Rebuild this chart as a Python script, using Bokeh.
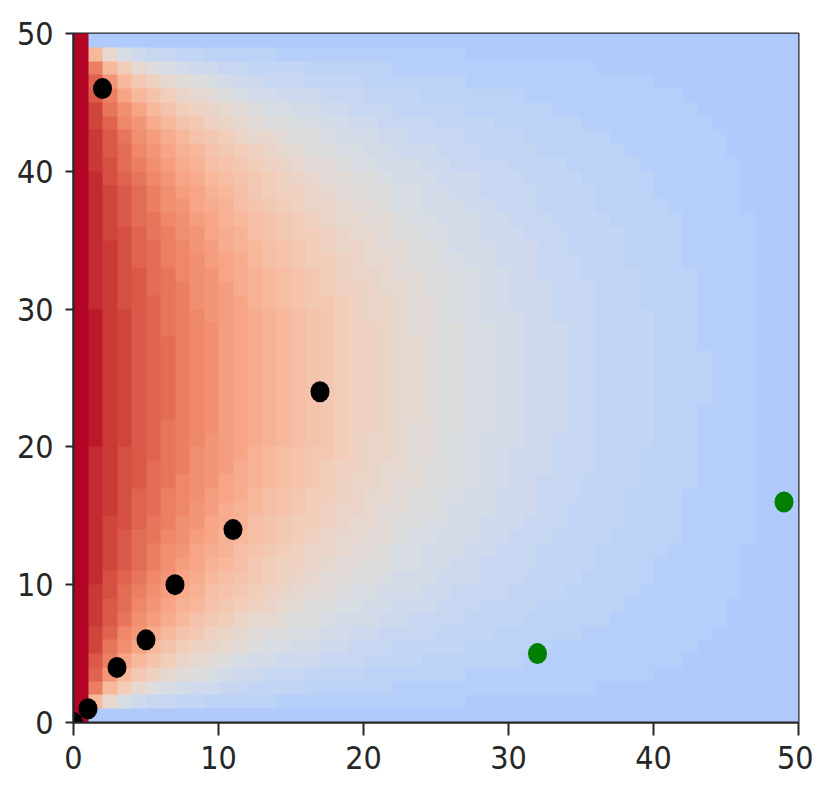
import numpy as np
from bokeh.plotting import figure
from bokeh.models import LinearColorMapper
from bokeh.embed import file_html
from bokeh.resources import INLINE

# ---------------- data ----------------
# Heat field, quantised to levels 0..35 (char codes below).
# Column 0 (left edge) is the hot boundary, column 49 and rows 0/49 the cold boundary.
LEVEL_CHARS = "0123456789abcdefghijklmnopqrstuvwxyz"
LEFT_EDGE_LEVEL = 35
OUTER_EDGE_LEVEL = 0
# columns 1..48, rows 1..24 (bottom -> middle); the field is mirrored about the middle row
HALF_COLUMNS = [
    "hpstvvwwwxxxxxxxxxxyyyyy",  # x=1
    "ahmpqsttuuvvvvwwwwwwwwww",
    "7dhknoqrrstttuuuuuuvvvvv",
    "5aehkmnopqrrrssstttttttt",
    "48cfhjlmnoppqqrrrrssssss",  # x=5
    "47adfhjklmnnopppqqqqqrrr",
    "369bdfhijklmnnoooppppppp",
    "358acefhijkklmmnnnnooooo",
    "2579bcefghijkkllmmmmnnnn",
    "2468abdefghiijjkklllllll",  # x=10
    "24579abdefgghiijjjkkkkkk",
    "235689acdeefgghhiiijjjjj",
    "234678abcddeffgghhhiiiii",
    "1345789abccdeeffggghhhhh",
    "13456789abccddeefffggggg",  # x=15
    "123567889abbcdddeeefffff",
    "1234567899abbccdddeeeeee",
    "12345667899aabbcccdddddd",
    "123445677899aabbbccccccc",
    "1223456678899aaabbbbcccc",  # x=20
    "122344566788999aaabbbbbb",
    "11233455667788999aaaaaaa",
    "112334456677788899999aaa",
    "112234455666778888999999",
    "112233445566677788888888",  # x=25
    "112233444556666777778888",
    "011223344555666677777777",
    "011223334445556666667777",
    "011222334444555566666666",
    "011222333444455555566666",  # x=30
    "011122233344445555555555",
    "011122223333444445555555",
    "011112223333344444445555",
    "011112222333333444444444",
    "011111222233333334444444",  # x=35
    "001111222222333333333333",
    "001111122222233333333333",
    "001111112222222233333333",
    "001111111222222222233333",
    "000111111112222222222222",  # x=40
    "000111111111222222222222",
    "000011111111111122222222",
    "000001111111111111111122",
    "000000111111111111111111",
    "000000001111111111111111",  # x=45
    "000000000000111111111111",
    "000000000000000000000000",
    "000000000000000000000000",  # x=48
]

black_x = [0, 1, 3, 5, 7, 11, 17, 2]
black_y = [0, 1, 4, 6, 10, 14, 24, 46]
green_x = [32, 49]
green_y = [5, 16]

x_ticks = [0, 10, 20, 30, 40, 50]
y_ticks = [0, 10, 20, 30, 40, 50]

# ---------------- build grid ----------------
N = 50
grid = np.zeros((N, N))
grid[:, 0] = LEFT_EDGE_LEVEL
for i, half in enumerate(HALF_COLUMNS, start=1):
    assert len(half) == 24, (i, len(half))
    vals = [LEVEL_CHARS.index(c) for c in half]
    grid[:, i] = [OUTER_EDGE_LEVEL] + vals + vals[::-1] + [OUTER_EDGE_LEVEL]
grid[:, N - 1] = OUTER_EDGE_LEVEL

# coolwarm colour map (Moreland), used from 0.35 (cold) to 1.0 (hot)
CW = [(59, 76, 192), (68, 90, 204), (77, 104, 215), (87, 117, 225), (98, 130, 234),
      (108, 142, 241), (119, 154, 247), (130, 165, 251), (141, 176, 254), (152, 185, 255),
      (163, 194, 255), (174, 201, 253), (184, 208, 249), (194, 213, 244), (204, 217, 238),
      (213, 219, 230), (221, 221, 221), (229, 216, 209), (236, 211, 197), (241, 204, 185),
      (245, 196, 173), (247, 187, 160), (247, 177, 148), (247, 166, 135), (244, 154, 123),
      (241, 141, 111), (236, 127, 99), (229, 112, 88), (222, 96, 77), (213, 80, 66),
      (203, 62, 56), (192, 40, 47), (180, 4, 38)]
cw_pos = np.linspace(0, 1, len(CW))
C0 = 0.35
palette = []
for k in range(len(LEVEL_CHARS)):
    t = C0 + (1 - C0) * k / (len(LEVEL_CHARS) - 1)
    rgb = [int(round(np.interp(t, cw_pos, [c[ch] for c in CW]))) for ch in range(3)]
    palette.append("#%02x%02x%02x" % tuple(rgb))

mapper = LinearColorMapper(palette=palette, low=-0.5, high=len(LEVEL_CHARS) - 0.5)

# ---------------- figure ----------------
p = figure(frame_width=725, frame_height=689, x_range=(0, 50), y_range=(0, 50),
           output_backend="svg", toolbar_location=None,
           min_border_left=73, min_border_top=33, min_border_right=15, min_border_bottom=62)

p.image(image=[grid], x=0, y=0, dw=50, dh=50, color_mapper=mapper)
p.ellipse(x=black_x, y=black_y, width=19, height=21, width_units="screen",
          height_units="screen", fill_color="black", line_color=None)
p.ellipse(x=green_x, y=green_y, width=19, height=21, width_units="screen",
          height_units="screen", fill_color="#008000", line_color=None)

p.grid.visible = False
p.xaxis.ticker = x_ticks
p.yaxis.ticker = y_ticks
for ax in (p.xaxis, p.yaxis):
    ax.major_label_text_font = "DejaVu Sans Condensed"
    ax.major_label_text_font_size = "32px"
    ax.major_label_text_color = "#262626"
    ax.axis_line_color = "#262626"
    ax.axis_line_width = 2
    ax.major_tick_line_color = "#262626"
    ax.major_tick_line_width = 2
    ax.major_tick_in = 0
    ax.minor_tick_line_color = None
p.xaxis.major_tick_out = 13
p.yaxis.major_tick_out = 8
p.xaxis.major_label_standoff = 10
p.yaxis.major_label_standoff = 12
p.outline_line_color = "#262626"
p.outline_line_width = 2
p.background_fill_color = "white"
p.border_fill_color = "white"

open("out.html", "w").write(file_html(p, INLINE))
